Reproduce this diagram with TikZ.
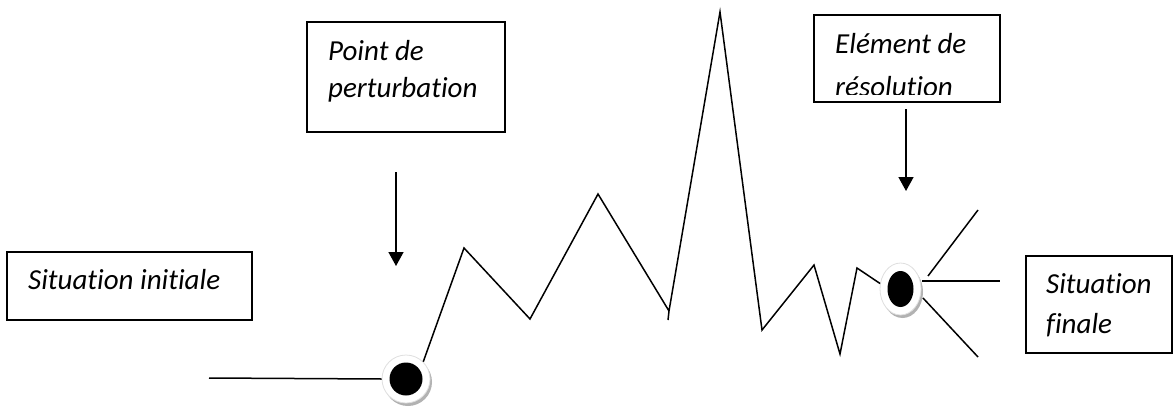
\documentclass[tikz,border=0pt]{standalone}
\usepackage{fontspec}
\setmainfont{Carlito}[RawFeature={-liga;-clig;-dlig}]
\usetikzlibrary{arrows.meta,shadows,shapes.geometric}
\begin{document}
\begin{tikzpicture}[x=1pt,y=-1pt,
  txt/.style={font=\fontsize{29}{35}\selectfont\itshape, inner sep=0pt, anchor=base west},
  boxnode/.style={draw, line width=1.6pt, inner sep=0pt, outer sep=0pt, anchor=north west},
  ln/.style={line width=1.5pt, line join=miter},
  arr/.style={line width=1.5pt, -{Triangle[width=15pt,length=14pt]}},
  dot/.style={ellipse, fill=white, draw=gray!25, line width=0.8pt, inner sep=0pt,
    drop shadow={shadow xshift=2pt, shadow yshift=-3pt, fill=gray!60, opacity=1}}
]
\useasboundingbox (0,0) rectangle (1173,407);

% boxes
\node[boxnode, minimum width=245pt, minimum height=68pt] (b1) at (7,252) {};
\node[boxnode, minimum width=198pt, minimum height=110pt] (b2) at (307,22) {};
\node[boxnode, minimum width=186pt, minimum height=87pt] (b3) at (814,15) {};
\node[boxnode, minimum width=146pt, minimum height=97pt] (b4) at (1026,256) {};

% texts
\node[txt] (t1) at (28,289) {Situation initiale};
\node[txt] (t2a) at (328,60) {Point de};
\node[txt] (t2b) at (328,97) {perturbation};
\node[txt] (t3a) at (835,53) {Elément de};
\begin{scope}
  \clip (814,15) rectangle (1000,94);
  \node[txt] (t3b) at (835,96) {résolution};
\end{scope}
\node[txt] (t4a) at (1046,293) {Situation};
\node[txt] (t4b) at (1046,333) {finale};

% arrows
\coordinate (a1s) at (396,172);
\coordinate (a1e) at (396,266);
\coordinate (a2s) at (906,109);
\coordinate (a2e) at (906,191);
\draw[arr] (a1s) -- (a1e);
\draw[arr] (a2s) -- (a2e);

% dots (positions)
\coordinate (c1) at (406,379);
\coordinate (c2) at (900.5,289);

% plot lines
\coordinate (h0) at (209,378);
\coordinate (r1s) at (928,276);
\coordinate (r1e) at (978,210);
\coordinate (r2s) at (922,281);
\coordinate (r2e) at (1000,281);
\coordinate (r3s) at (923,298);
\coordinate (r3e) at (978,357);

\node[dot, minimum width=48pt, minimum height=48pt,
  path picture={\fill[black] (path picture bounding box.center) ellipse [x radius=16.5pt, y radius=16.5pt];}] (d1) at (c1) {};
\node[dot, minimum width=41pt, minimum height=52pt,
  path picture={\fill[black] (path picture bounding box.center) ellipse [x radius=13pt, y radius=18pt];}] (d2) at (c2) {};

\draw[ln] (h0) -- (d1.west);
\draw[ln] (d1.45) -- (464,248) -- (530,319) -- (598,194) -- (669,311) -- (668,320)
  (669,311) -- (720,12) -- (762,330) -- (814,265) -- (840,354) -- (857,268) -- (d2.165);
\draw[ln] (r1s) -- (r1e);
\draw[ln] (r2s) -- (r2e);
\draw[ln] (r3s) -- (r3e);
\end{tikzpicture}
\end{document}
